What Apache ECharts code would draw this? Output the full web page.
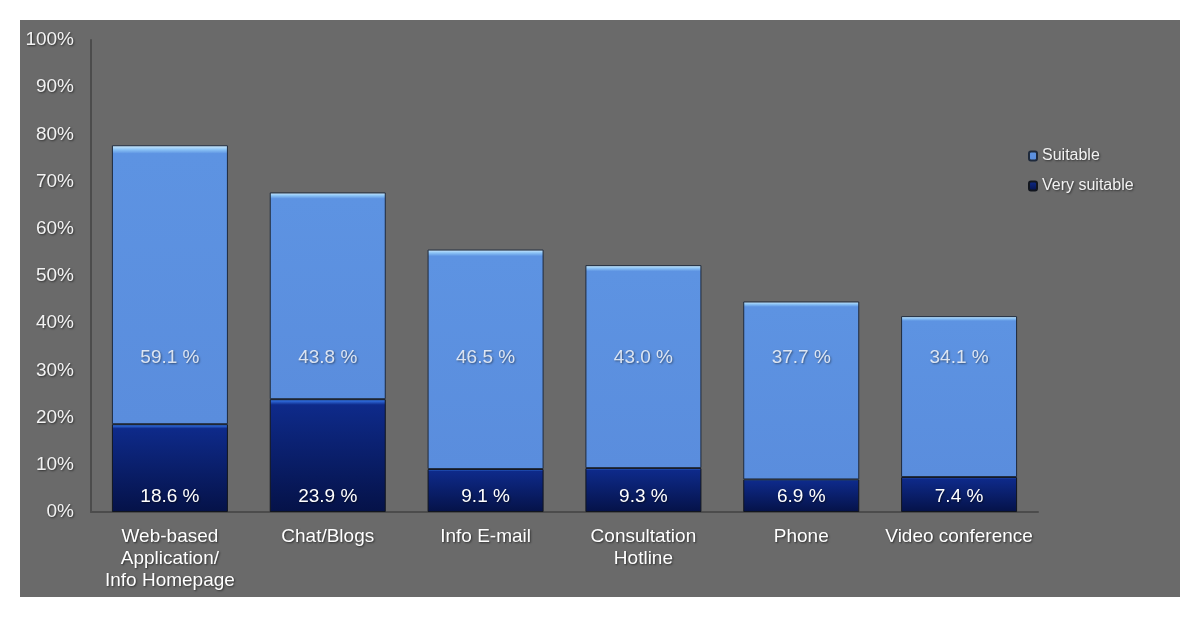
<!DOCTYPE html>
<html>
<head>
<meta charset="utf-8">
<script src="https://cdn.jsdelivr.net/npm/echarts@6/dist/echarts.min.js"></script>
<style>
html,body{margin:0;padding:0;background:#ffffff;}
#chart{position:absolute;left:20px;top:20px;width:1160px;height:577px;background:#6a6a6a;}
</style>
</head>
<body>
<div id="chart"></div>
<script>
const categories = ['Web-based\nApplication/\nInfo Homepage', 'Chat/Blogs', 'Info E-mail', 'Consultation\nHotline', 'Phone', 'Video conference'];
const verySuitable = [18.6, 23.9, 9.1, 9.3, 6.9, 7.4];
const suitable = [59.1, 43.8, 46.5, 43.0, 37.7, 34.1];
const suitableLabelLevel = 32.6;

const chart = echarts.init(document.getElementById('chart'));
const txtShadow = {textShadowColor:'rgba(0,0,0,0.55)', textShadowBlur:2, textShadowOffsetX:1, textShadowOffsetY:1};
const font = 'Liberation Sans, Arial, sans-serif';

chart.setOption({
  animation:false,
  grid:{left:71, top:20, right:142, bottom:85, containLabel:false},
  legend:{
    orient:'vertical', left:1003, top:123, itemWidth:8, itemHeight:9, itemGap:14,
    data:['Suitable','Very suitable'],
    textStyle:Object.assign({color:'#f2f2f2', fontSize:16, fontFamily:font}, txtShadow)
  },
  xAxis:{
    type:'category', data:categories,
    axisLine:{lineStyle:{color:'#4c4c4c', width:2}},
    axisTick:{show:false},
    axisLabel:Object.assign({color:'#ffffff', fontSize:19, fontFamily:font, lineHeight:22, margin:14, interval:0}, txtShadow)
  },
  yAxis:{
    type:'value', min:0, max:100, interval:10,
    axisLine:{show:true, lineStyle:{color:'#4c4c4c', width:2}},
    axisTick:{show:false},
    splitLine:{show:false},
    axisLabel:Object.assign({color:'#f2f2f2', fontSize:19, fontFamily:font, margin:17, formatter:'{value}%'}, txtShadow)
  },
  series:[
    {
      name:'Very suitable', type:'bar', stack:'s', barCategoryGap:'26.5%',
      data:verySuitable,
      itemStyle:{
        color:new echarts.graphic.LinearGradient(0,0,0,1,[
          {offset:0,color:'#3a7ae8'},{offset:0.02,color:'#2a62d0'},{offset:0.05,color:'#0e2a8a'},{offset:1,color:'#051248'}]),
        borderColor:'#12161f', borderWidth:1
      },
      label:Object.assign({show:true, position:'insideBottom', distance:6, color:'#ffffff', fontSize:19, fontFamily:font,
        formatter:p=>p.value.toFixed(1)+' %'}, txtShadow)
    },
    {
      name:'Suitable', type:'bar', stack:'s',
      data:suitable,
      itemStyle:{
        color:new echarts.graphic.LinearGradient(0,0,0,1,[
          {offset:0,color:'#d8f0ff'},{offset:0.015,color:'#8cc4f6'},{offset:0.03,color:'#5d93e2'},{offset:1,color:'#5a8ddd'}]),
        borderColor:'#1f2a3c', borderWidth:1
      },
      label:{show:false}
    },
    {
      name:'SuitableLabels', type:'scatter', symbolSize:0,
      data:suitable.map((v,i)=>[i, suitableLabelLevel, v]),
      label:Object.assign({show:true, position:'inside', color:'#ffffff', fontSize:19, fontFamily:font,
        formatter:p=>p.value[2].toFixed(1)+' %'}, txtShadow),
      silent:true, z:10
    }
  ]
});
</script>
</body>
</html>
